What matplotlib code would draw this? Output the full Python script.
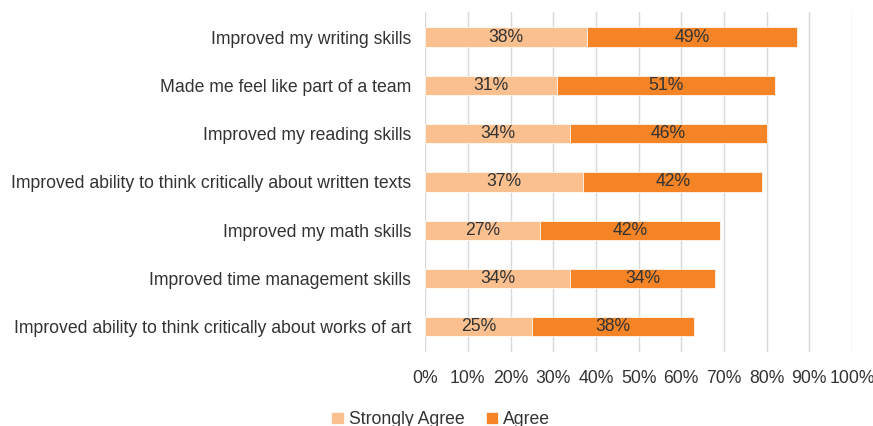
import matplotlib.pyplot as plt
from matplotlib.ticker import PercentFormatter

plt.rcParams['font.family'] = ['Liberation Sans', 'DejaVu Sans']

# Survey items, top to bottom
items = [
    "Improved my writing skills",
    "Made me feel like part of a team",
    "Improved my reading skills",
    "Improved ability to think critically about written texts",
    "Improved my math skills",
    "Improved time management skills",
    "Improved ability to think critically about works of art",
]
strongly_agree = [38, 31, 34, 37, 27, 34, 25]
agree = [49, 51, 46, 42, 42, 34, 38]

c_strong = '#FAC090'
c_agree = '#F58426'
text_col = '#333333'
fs = 12.7

fig = plt.figure(figsize=(8.73, 4.26), dpi=100)
ax = fig.add_axes([0.487, 0.174, 0.489, 0.798])

y = range(len(items))
b1 = ax.barh(y, strongly_agree, height=0.4, color=c_strong, label='Strongly Agree',
             edgecolor='white', linewidth=0.5, zorder=3)
b2 = ax.barh(y, agree, left=strongly_agree, height=0.4, color=c_agree, label='Agree',
             edgecolor='white', linewidth=0.5, zorder=3)

# value labels centred in each segment
for bars in (b1, b2):
    ax.bar_label(bars, labels=[f'{v}%' for v in bars.datavalues], label_type='center',
                 fontsize=fs, color=text_col, zorder=4)

ax.set_xlim(0, 100)
ax.set_ylim(len(items) - 0.48, -0.52)
ax.set_xticks(range(0, 101, 10))
ax.xaxis.set_major_formatter(PercentFormatter(decimals=0))
ax.set_yticks(list(y))
ax.set_yticklabels(items)

ax.grid(axis='x', color='#D9D9D9', linewidth=1.0, zorder=0)
for s in ax.spines.values():
    s.set_visible(False)
ax.tick_params(axis='both', length=0, labelsize=fs, colors=text_col)
ax.tick_params(axis='x', pad=13)
ax.tick_params(axis='y', pad=10)

fig.legend(handles=[b1, b2], loc='center', bbox_to_anchor=(0.505, 0.015), ncol=2,
           frameon=False, fontsize=fs, handlelength=0.7, handleheight=0.7,
           handletextpad=0.3, columnspacing=1.2, labelcolor=text_col)

fig.savefig('out.png', dpi=100)
